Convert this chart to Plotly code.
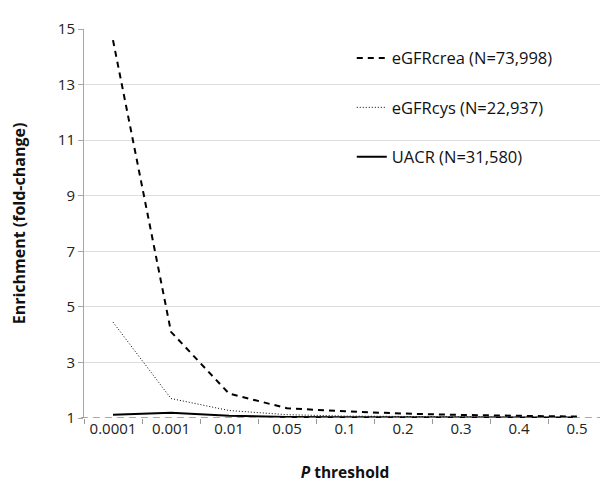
import plotly.graph_objects as go

thresholds = ["0.0001", "0.001", "0.01", "0.05", "0.1", "0.2", "0.3", "0.4", "0.5"]
egfrcrea = [14.6, 4.1, 1.88, 1.35, 1.24, 1.16, 1.11, 1.07, 1.05]
egfrcys = [4.45, 1.7, 1.27, 1.12, 1.07, 1.05, 1.04, 1.03, 1.03]
uacr = [1.12, 1.19, 1.08, 1.04, 1.03, 1.02, 1.02, 1.02, 1.02]
baseline = 1
y_ticks = [1, 3, 5, 7, 9, 11, 13, 15]

font = "Open Sans"

fig = go.Figure()
fig.add_trace(go.Scatter(x=thresholds, y=egfrcrea, mode="lines", name="eGFRcrea (N=73,998)",
                         legendgroup="a", line=dict(color="black", width=2, dash="6px,5px")))
fig.add_trace(go.Scatter(x=thresholds, y=egfrcys, mode="lines", name="eGFRcys (N=22,937)",
                         legendgroup="b", line=dict(color="black", width=1, dash="1px,2px")))
fig.add_trace(go.Scatter(x=thresholds, y=uacr, mode="lines", name="UACR (N=31,580)",
                         legendgroup="c", line=dict(color="black", width=2)))

fig.add_shape(type="line", xref="paper", yref="y", x0=-0.006, x1=1, y0=baseline, y1=baseline,
              line=dict(color="#8c8c8c", width=1.5, dash="7px,5px"), layer="above")

fig.update_layout(
    width=608, height=486,
    margin=dict(l=76, r=10, t=14, b=76),
    paper_bgcolor="white", plot_bgcolor="white",
    font=dict(family=font, size=15, color="#222"),
    legend=dict(x=0.513, y=0.97, xanchor="left", yanchor="top", bgcolor="rgba(0,0,0,0)",
                tracegroupgap=25, itemwidth=30, font=dict(size=16.5, color="#111")),
    xaxis=dict(type="category", range=[-0.5, 8.5], showgrid=False, showline=False,
               ticks="outside", tickson="boundaries", ticklen=5, tickcolor="#999",
               tickfont=dict(size=15, color="#222"),
               title=dict(text="<b><i>P</i> threshold</b>", font=dict(size=15.5, color="#111"), standoff=30)),
    yaxis=dict(range=[baseline, 15], tickvals=y_ticks, showgrid=True, gridcolor="#dedede",
               showline=True, linecolor="#a6a6a6", linewidth=1, zeroline=False,
               ticks="outside", ticklen=5, tickcolor="#a6a6a6",
               tickfont=dict(size=15, color="#222"),
               title=dict(text="<b>Enrichment (fold-change)</b>", font=dict(size=16, color="#111"), standoff=28)),
)

fig.write_html("out.html")
